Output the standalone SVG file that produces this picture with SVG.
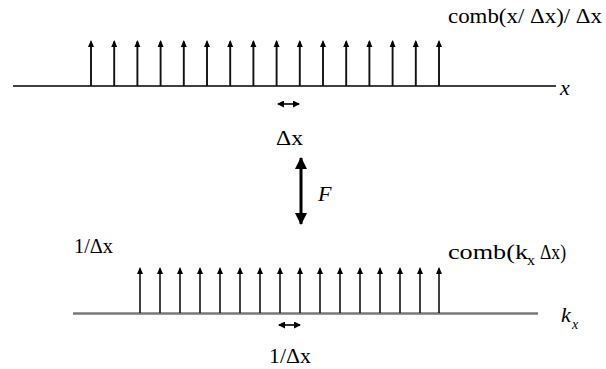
<svg xmlns="http://www.w3.org/2000/svg" width="606" height="369" viewBox="0 0 606 369">
<defs>
<style>
text{font-family:"Liberation Serif","Times New Roman",serif;font-size:21px;fill:#000}
.it{font-style:italic;font-size:22px}
.sub{font-size:14px}
.spk{stroke:#111;stroke-width:1.9;fill:none}
.spk2{stroke:#111;stroke-width:1.6;fill:none}
.small{stroke:#000;stroke-width:1.6;fill:none}
</style>
<marker id="sa" markerUnits="userSpaceOnUse" markerWidth="7" markerHeight="7" viewBox="0 0 7 7" refX="6" refY="3.5" orient="auto-start-reverse">
<path d="M0,0 L7,3.5 L0,7 Z" fill="#000"/>
</marker>
<marker id="fa" markerUnits="userSpaceOnUse" markerWidth="12" markerHeight="12" viewBox="0 0 12 12" refX="11" refY="6" orient="auto-start-reverse">
<path d="M0,0 L12,6 L0,12 Z" fill="#000"/>
</marker>
</defs>
<rect width="606" height="369" fill="#fff"/>

<g id="top-comb">
<line x1="13" y1="86" x2="556" y2="86" stroke="#000" stroke-width="1.3"/>
<g id="top-spikes" class="spk">
<path d="M91,86V41.5M114.2,86V41.5M137.4,86V41.5M160.6,86V41.5M183.8,86V41.5M207,86V41.5M230.2,86V41.5M253.4,86V41.5M276.6,86V41.5M299.8,86V41.5M323,86V41.5M346.2,86V41.5M369.4,86V41.5M392.6,86V41.5M415.8,86V41.5M439,86V41.5"/>
</g>
<g id="top-heads" fill="#000">
<path d="M91,40l-3,7h6zM114.2,40l-3,7h6zM137.4,40l-3,7h6zM160.6,40l-3,7h6zM183.8,40l-3,7h6zM207,40l-3,7h6zM230.2,40l-3,7h6zM253.4,40l-3,7h6zM276.6,40l-3,7h6zM299.8,40l-3,7h6zM323,40l-3,7h6zM346.2,40l-3,7h6zM369.4,40l-3,7h6zM392.6,40l-3,7h6zM415.8,40l-3,7h6zM439,40l-3,7h6z"/>
</g>
<text x="448" y="23" textLength="154" lengthAdjust="spacingAndGlyphs">comb(x/ Δx)/ Δx</text>
<text class="it" x="560" y="95">x</text>
</g>

<g id="top-spacing">
<line class="small" x1="278" y1="104" x2="299" y2="104" marker-start="url(#sa)" marker-end="url(#sa)"/>
<text x="276" y="145" textLength="27" lengthAdjust="spacingAndGlyphs">Δx</text>
</g>

<g id="fourier">
<line x1="301" y1="158" x2="301" y2="224" stroke="#000" stroke-width="3" marker-start="url(#fa)" marker-end="url(#fa)"/>
<text class="it" x="318" y="201">F</text>
</g>

<g id="bottom-comb">
<line x1="73" y1="313.5" x2="538" y2="313.5" stroke="#777" stroke-width="2.5"/>
<g id="bottom-spikes" class="spk2">
<path d="M140,313V268.5M160,313V268.5M180,313V268.5M200,313V268.5M220,313V268.5M240,313V268.5M260,313V268.5M280,313V268.5M300,313V268.5M320,313V268.5M340,313V268.5M360,313V268.5M380,313V268.5M400,313V268.5M420,313V268.5M439,313V268.5"/>
</g>
<g id="bottom-heads" fill="#000">
<path d="M140,267l-3,7h6zM160,267l-3,7h6zM180,267l-3,7h6zM200,267l-3,7h6zM220,267l-3,7h6zM240,267l-3,7h6zM260,267l-3,7h6zM280,267l-3,7h6zM300,267l-3,7h6zM320,267l-3,7h6zM340,267l-3,7h6zM360,267l-3,7h6zM380,267l-3,7h6zM400,267l-3,7h6zM420,267l-3,7h6zM439,267l-3,7h6z"/>
</g>
<text x="74" y="253" textLength="39" lengthAdjust="spacingAndGlyphs">1/Δx</text>
<text x="448" y="259" textLength="80" lengthAdjust="spacingAndGlyphs">comb(k</text>
<text class="sub" x="527" y="265" textLength="8" lengthAdjust="spacingAndGlyphs">x</text>
<text x="540" y="259" textLength="26" lengthAdjust="spacingAndGlyphs">Δx)</text>
<text class="it" x="561" y="322">k</text>
<text class="it sub" x="572" y="329">x</text>
</g>

<g id="bottom-spacing">
<line class="small" x1="279" y1="325" x2="300" y2="325" marker-start="url(#sa)" marker-end="url(#sa)"/>
<text x="269" y="363" textLength="42" lengthAdjust="spacingAndGlyphs">1/Δx</text>
</g>
</svg>
